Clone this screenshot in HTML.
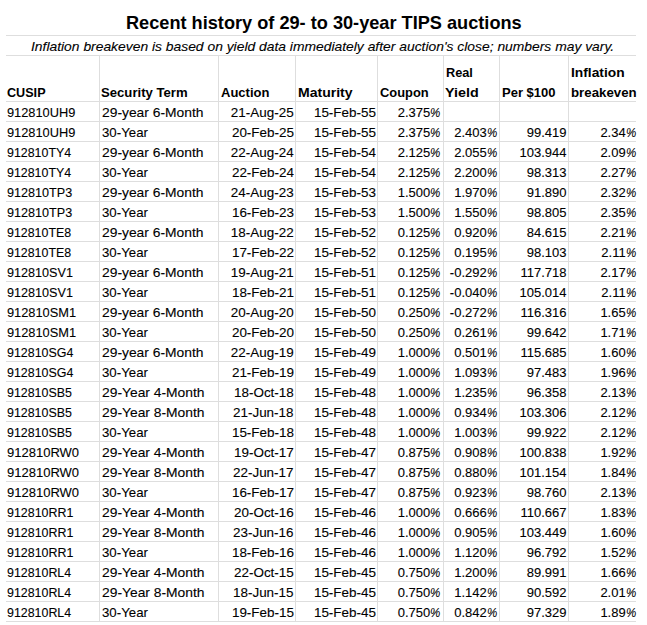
<!DOCTYPE html><html><head><meta charset="utf-8"><style>
html,body{margin:0;padding:0;background:#fff;}
body{width:647px;height:625px;overflow:hidden;position:relative;font-family:"Liberation Sans",sans-serif;color:#000;}
.h{position:absolute;height:1px;background:#dedede;left:6px;width:630px;}
.v{position:absolute;width:1px;background:#dedede;}
.t{position:absolute;white-space:nowrap;font-size:13px;line-height:20px;height:20px;width:0;}
.t span{position:absolute;top:0;display:block;}
.l span{left:0;transform-origin:0 50%;}
.r span{right:0;transform-origin:100% 50%;}
.b{font-weight:bold;}
.t{-webkit-text-stroke:0.1px #000;}
.b{-webkit-text-stroke:0px #000;}
.p{display:inline-block;transform:scaleX(0.89);transform-origin:0 50%;margin-right:-1.27px;}
</style></head><body>
<div class="h" style="top:35px"></div>
<div class="h" style="top:55px"></div>
<div class="h" style="top:101px"></div>
<div class="h" style="top:121px"></div>
<div class="h" style="top:141px"></div>
<div class="h" style="top:161px"></div>
<div class="h" style="top:181px"></div>
<div class="h" style="top:201px"></div>
<div class="h" style="top:221px"></div>
<div class="h" style="top:241px"></div>
<div class="h" style="top:261px"></div>
<div class="h" style="top:281px"></div>
<div class="h" style="top:301px"></div>
<div class="h" style="top:321px"></div>
<div class="h" style="top:341px"></div>
<div class="h" style="top:361px"></div>
<div class="h" style="top:381px"></div>
<div class="h" style="top:401px"></div>
<div class="h" style="top:421px"></div>
<div class="h" style="top:441px"></div>
<div class="h" style="top:461px"></div>
<div class="h" style="top:481px"></div>
<div class="h" style="top:501px"></div>
<div class="h" style="top:521px"></div>
<div class="h" style="top:541px"></div>
<div class="h" style="top:561px"></div>
<div class="h" style="top:581px"></div>
<div class="h" style="top:601px"></div>
<div class="h" style="top:621px"></div>
<div class="v" style="left:99px;top:56px;height:566px"></div>
<div class="v" style="left:218px;top:56px;height:566px"></div>
<div class="v" style="left:295px;top:56px;height:566px"></div>
<div class="v" style="left:377px;top:56px;height:566px"></div>
<div class="v" style="left:443px;top:56px;height:566px"></div>
<div class="v" style="left:499px;top:56px;height:566px"></div>
<div class="v" style="left:568px;top:56px;height:566px"></div>
<div class="t l b" style="left:126px;top:13px;font-size:19px;"><span style="transform:scaleX(0.956)">Recent history of 29- to 30-year TIPS auctions</span></div>
<div class="t l" style="left:31px;top:37px;font-size:13px;font-style:italic;"><span style="transform:scaleX(1.066)">Inflation breakeven is based on yield data immediately after auction&#39;s close; numbers may vary.</span></div>
<div class="t l b" style="left:7px;top:83px"><span style="transform:scaleX(0.97)">CUSIP</span></div>
<div class="t l b" style="left:101px;top:83px"><span style="transform:scaleX(1.01)">Security Term</span></div>
<div class="t l b" style="left:221px;top:83px"><span>Auction</span></div>
<div class="t l b" style="left:298px;top:83px"><span style="transform:scaleX(1.08)">Maturity</span></div>
<div class="t l b" style="left:380px;top:83px"><span style="transform:scaleX(0.99)">Coupon</span></div>
<div class="t l b" style="left:446px;top:63px"><span style="transform:scaleX(0.98)">Real</span></div>
<div class="t l b" style="left:445px;top:83px"><span style="transform:scaleX(1.1)">Yield</span></div>
<div class="t l b" style="left:502px;top:83px"><span>Per &#36;100</span></div>
<div class="t l b" style="left:571px;top:63px"><span style="transform:scaleX(1.06)">Inflation</span></div>
<div class="t l b" style="left:571px;top:83px"><span style="transform:scaleX(1.02)">breakeven</span></div>
<div class="t l" style="left:7px;top:103px"><span style="transform:scaleX(0.985)">912810UH9</span></div>
<div class="t l" style="left:102px;top:103px"><span style="transform:scaleX(1.064)">29-year 6-Month</span></div>
<div class="t r" style="left:294px;top:103px"><span style="transform:scaleX(1.035)">21-Aug-25</span></div>
<div class="t r" style="left:376px;top:103px"><span style="transform:scaleX(1.035)">15-Feb-55</span></div>
<div class="t r" style="left:440.5px;top:103px"><span>2.375<i class="p">%</i></span></div>
<div class="t l" style="left:7px;top:123px"><span style="transform:scaleX(0.985)">912810UH9</span></div>
<div class="t l" style="left:102px;top:123px"><span style="transform:scaleX(1.02)">30-Year</span></div>
<div class="t r" style="left:294px;top:123px"><span style="transform:scaleX(1.035)">20-Feb-25</span></div>
<div class="t r" style="left:376px;top:123px"><span style="transform:scaleX(1.035)">15-Feb-55</span></div>
<div class="t r" style="left:440.5px;top:123px"><span>2.375<i class="p">%</i></span></div>
<div class="t r" style="left:497px;top:123px"><span>2.403<i class="p">%</i></span></div>
<div class="t r" style="left:566.5px;top:123px"><span>99.419</span></div>
<div class="t r" style="left:636px;top:123px"><span>2.34<i class="p">%</i></span></div>
<div class="t l" style="left:7px;top:143px"><span style="transform:scaleX(0.954)">912810TY4</span></div>
<div class="t l" style="left:102px;top:143px"><span style="transform:scaleX(1.064)">29-year 6-Month</span></div>
<div class="t r" style="left:294px;top:143px"><span style="transform:scaleX(1.035)">22-Aug-24</span></div>
<div class="t r" style="left:376px;top:143px"><span style="transform:scaleX(1.035)">15-Feb-54</span></div>
<div class="t r" style="left:440.5px;top:143px"><span>2.125<i class="p">%</i></span></div>
<div class="t r" style="left:497px;top:143px"><span>2.055<i class="p">%</i></span></div>
<div class="t r" style="left:566.5px;top:143px"><span>103.944</span></div>
<div class="t r" style="left:636px;top:143px"><span>2.09<i class="p">%</i></span></div>
<div class="t l" style="left:7px;top:163px"><span style="transform:scaleX(0.954)">912810TY4</span></div>
<div class="t l" style="left:102px;top:163px"><span style="transform:scaleX(1.02)">30-Year</span></div>
<div class="t r" style="left:294px;top:163px"><span style="transform:scaleX(1.035)">22-Feb-24</span></div>
<div class="t r" style="left:376px;top:163px"><span style="transform:scaleX(1.035)">15-Feb-54</span></div>
<div class="t r" style="left:440.5px;top:163px"><span>2.125<i class="p">%</i></span></div>
<div class="t r" style="left:497px;top:163px"><span>2.200<i class="p">%</i></span></div>
<div class="t r" style="left:566.5px;top:163px"><span>98.313</span></div>
<div class="t r" style="left:636px;top:163px"><span>2.27<i class="p">%</i></span></div>
<div class="t l" style="left:7px;top:183px"><span style="transform:scaleX(0.969)">912810TP3</span></div>
<div class="t l" style="left:102px;top:183px"><span style="transform:scaleX(1.064)">29-year 6-Month</span></div>
<div class="t r" style="left:294px;top:183px"><span style="transform:scaleX(1.035)">24-Aug-23</span></div>
<div class="t r" style="left:376px;top:183px"><span style="transform:scaleX(1.035)">15-Feb-53</span></div>
<div class="t r" style="left:440.5px;top:183px"><span>1.500<i class="p">%</i></span></div>
<div class="t r" style="left:497px;top:183px"><span>1.970<i class="p">%</i></span></div>
<div class="t r" style="left:566.5px;top:183px"><span>91.890</span></div>
<div class="t r" style="left:636px;top:183px"><span>2.32<i class="p">%</i></span></div>
<div class="t l" style="left:7px;top:203px"><span style="transform:scaleX(0.969)">912810TP3</span></div>
<div class="t l" style="left:102px;top:203px"><span style="transform:scaleX(1.02)">30-Year</span></div>
<div class="t r" style="left:294px;top:203px"><span style="transform:scaleX(1.035)">16-Feb-23</span></div>
<div class="t r" style="left:376px;top:203px"><span style="transform:scaleX(1.035)">15-Feb-53</span></div>
<div class="t r" style="left:440.5px;top:203px"><span>1.500<i class="p">%</i></span></div>
<div class="t r" style="left:497px;top:203px"><span>1.550<i class="p">%</i></span></div>
<div class="t r" style="left:566.5px;top:203px"><span>98.805</span></div>
<div class="t r" style="left:636px;top:203px"><span>2.35<i class="p">%</i></span></div>
<div class="t l" style="left:7px;top:223px"><span style="transform:scaleX(0.954)">912810TE8</span></div>
<div class="t l" style="left:102px;top:223px"><span style="transform:scaleX(1.064)">29-year 6-Month</span></div>
<div class="t r" style="left:294px;top:223px"><span style="transform:scaleX(1.035)">18-Aug-22</span></div>
<div class="t r" style="left:376px;top:223px"><span style="transform:scaleX(1.035)">15-Feb-52</span></div>
<div class="t r" style="left:440.5px;top:223px"><span>0.125<i class="p">%</i></span></div>
<div class="t r" style="left:497px;top:223px"><span>0.920<i class="p">%</i></span></div>
<div class="t r" style="left:566.5px;top:223px"><span>84.615</span></div>
<div class="t r" style="left:636px;top:223px"><span>2.21<i class="p">%</i></span></div>
<div class="t l" style="left:7px;top:243px"><span style="transform:scaleX(0.954)">912810TE8</span></div>
<div class="t l" style="left:102px;top:243px"><span style="transform:scaleX(1.02)">30-Year</span></div>
<div class="t r" style="left:294px;top:243px"><span style="transform:scaleX(1.035)">17-Feb-22</span></div>
<div class="t r" style="left:376px;top:243px"><span style="transform:scaleX(1.035)">15-Feb-52</span></div>
<div class="t r" style="left:440.5px;top:243px"><span>0.125<i class="p">%</i></span></div>
<div class="t r" style="left:497px;top:243px"><span>0.195<i class="p">%</i></span></div>
<div class="t r" style="left:566.5px;top:243px"><span>98.103</span></div>
<div class="t r" style="left:636px;top:243px"><span>2.11<i class="p">%</i></span></div>
<div class="t l" style="left:7px;top:263px"><span style="transform:scaleX(0.97)">912810SV1</span></div>
<div class="t l" style="left:102px;top:263px"><span style="transform:scaleX(1.064)">29-year 6-Month</span></div>
<div class="t r" style="left:294px;top:263px"><span style="transform:scaleX(1.035)">19-Aug-21</span></div>
<div class="t r" style="left:376px;top:263px"><span style="transform:scaleX(1.035)">15-Feb-51</span></div>
<div class="t r" style="left:440.5px;top:263px"><span>0.125<i class="p">%</i></span></div>
<div class="t r" style="left:497px;top:263px"><span>-0.292<i class="p">%</i></span></div>
<div class="t r" style="left:566.5px;top:263px"><span>117.718</span></div>
<div class="t r" style="left:636px;top:263px"><span>2.17<i class="p">%</i></span></div>
<div class="t l" style="left:7px;top:283px"><span style="transform:scaleX(0.97)">912810SV1</span></div>
<div class="t l" style="left:102px;top:283px"><span style="transform:scaleX(1.02)">30-Year</span></div>
<div class="t r" style="left:294px;top:283px"><span style="transform:scaleX(1.035)">18-Feb-21</span></div>
<div class="t r" style="left:376px;top:283px"><span style="transform:scaleX(1.035)">15-Feb-51</span></div>
<div class="t r" style="left:440.5px;top:283px"><span>0.125<i class="p">%</i></span></div>
<div class="t r" style="left:497px;top:283px"><span>-0.040<i class="p">%</i></span></div>
<div class="t r" style="left:566.5px;top:283px"><span>105.014</span></div>
<div class="t r" style="left:636px;top:283px"><span>2.11<i class="p">%</i></span></div>
<div class="t l" style="left:7px;top:303px"><span style="transform:scaleX(0.985)">912810SM1</span></div>
<div class="t l" style="left:102px;top:303px"><span style="transform:scaleX(1.064)">29-year 6-Month</span></div>
<div class="t r" style="left:294px;top:303px"><span style="transform:scaleX(1.035)">20-Aug-20</span></div>
<div class="t r" style="left:376px;top:303px"><span style="transform:scaleX(1.035)">15-Feb-50</span></div>
<div class="t r" style="left:440.5px;top:303px"><span>0.250<i class="p">%</i></span></div>
<div class="t r" style="left:497px;top:303px"><span>-0.272<i class="p">%</i></span></div>
<div class="t r" style="left:566.5px;top:303px"><span>116.316</span></div>
<div class="t r" style="left:636px;top:303px"><span>1.65<i class="p">%</i></span></div>
<div class="t l" style="left:7px;top:323px"><span style="transform:scaleX(0.985)">912810SM1</span></div>
<div class="t l" style="left:102px;top:323px"><span style="transform:scaleX(1.02)">30-Year</span></div>
<div class="t r" style="left:294px;top:323px"><span style="transform:scaleX(1.035)">20-Feb-20</span></div>
<div class="t r" style="left:376px;top:323px"><span style="transform:scaleX(1.035)">15-Feb-50</span></div>
<div class="t r" style="left:440.5px;top:323px"><span>0.250<i class="p">%</i></span></div>
<div class="t r" style="left:497px;top:323px"><span>0.261<i class="p">%</i></span></div>
<div class="t r" style="left:566.5px;top:323px"><span>99.642</span></div>
<div class="t r" style="left:636px;top:323px"><span>1.71<i class="p">%</i></span></div>
<div class="t l" style="left:7px;top:343px"><span style="transform:scaleX(0.956)">912810SG4</span></div>
<div class="t l" style="left:102px;top:343px"><span style="transform:scaleX(1.064)">29-year 6-Month</span></div>
<div class="t r" style="left:294px;top:343px"><span style="transform:scaleX(1.035)">22-Aug-19</span></div>
<div class="t r" style="left:376px;top:343px"><span style="transform:scaleX(1.035)">15-Feb-49</span></div>
<div class="t r" style="left:440.5px;top:343px"><span>1.000<i class="p">%</i></span></div>
<div class="t r" style="left:497px;top:343px"><span>0.501<i class="p">%</i></span></div>
<div class="t r" style="left:566.5px;top:343px"><span>115.685</span></div>
<div class="t r" style="left:636px;top:343px"><span>1.60<i class="p">%</i></span></div>
<div class="t l" style="left:7px;top:363px"><span style="transform:scaleX(0.956)">912810SG4</span></div>
<div class="t l" style="left:102px;top:363px"><span style="transform:scaleX(1.02)">30-Year</span></div>
<div class="t r" style="left:294px;top:363px"><span style="transform:scaleX(1.035)">21-Feb-19</span></div>
<div class="t r" style="left:376px;top:363px"><span style="transform:scaleX(1.035)">15-Feb-49</span></div>
<div class="t r" style="left:440.5px;top:363px"><span>1.000<i class="p">%</i></span></div>
<div class="t r" style="left:497px;top:363px"><span>1.093<i class="p">%</i></span></div>
<div class="t r" style="left:566.5px;top:363px"><span>97.483</span></div>
<div class="t r" style="left:636px;top:363px"><span>1.96<i class="p">%</i></span></div>
<div class="t l" style="left:7px;top:383px"><span style="transform:scaleX(0.955)">912810SB5</span></div>
<div class="t l" style="left:102px;top:383px"><span style="transform:scaleX(1.064)">29-Year 4-Month</span></div>
<div class="t r" style="left:294px;top:383px"><span style="transform:scaleX(1.035)">18-Oct-18</span></div>
<div class="t r" style="left:376px;top:383px"><span style="transform:scaleX(1.035)">15-Feb-48</span></div>
<div class="t r" style="left:440.5px;top:383px"><span>1.000<i class="p">%</i></span></div>
<div class="t r" style="left:497px;top:383px"><span>1.235<i class="p">%</i></span></div>
<div class="t r" style="left:566.5px;top:383px"><span>96.358</span></div>
<div class="t r" style="left:636px;top:383px"><span>2.13<i class="p">%</i></span></div>
<div class="t l" style="left:7px;top:403px"><span style="transform:scaleX(0.955)">912810SB5</span></div>
<div class="t l" style="left:102px;top:403px"><span style="transform:scaleX(1.064)">29-Year 8-Month</span></div>
<div class="t r" style="left:294px;top:403px"><span style="transform:scaleX(1.035)">21-Jun-18</span></div>
<div class="t r" style="left:376px;top:403px"><span style="transform:scaleX(1.035)">15-Feb-48</span></div>
<div class="t r" style="left:440.5px;top:403px"><span>1.000<i class="p">%</i></span></div>
<div class="t r" style="left:497px;top:403px"><span>0.934<i class="p">%</i></span></div>
<div class="t r" style="left:566.5px;top:403px"><span>103.306</span></div>
<div class="t r" style="left:636px;top:403px"><span>2.12<i class="p">%</i></span></div>
<div class="t l" style="left:7px;top:423px"><span style="transform:scaleX(0.955)">912810SB5</span></div>
<div class="t l" style="left:102px;top:423px"><span style="transform:scaleX(1.02)">30-Year</span></div>
<div class="t r" style="left:294px;top:423px"><span style="transform:scaleX(1.035)">15-Feb-18</span></div>
<div class="t r" style="left:376px;top:423px"><span style="transform:scaleX(1.035)">15-Feb-48</span></div>
<div class="t r" style="left:440.5px;top:423px"><span>1.000<i class="p">%</i></span></div>
<div class="t r" style="left:497px;top:423px"><span>1.003<i class="p">%</i></span></div>
<div class="t r" style="left:566.5px;top:423px"><span>99.922</span></div>
<div class="t r" style="left:636px;top:423px"><span>2.12<i class="p">%</i></span></div>
<div class="t l" style="left:7px;top:443px"><span>912810RW0</span></div>
<div class="t l" style="left:102px;top:443px"><span style="transform:scaleX(1.064)">29-Year 4-Month</span></div>
<div class="t r" style="left:294px;top:443px"><span style="transform:scaleX(1.035)">19-Oct-17</span></div>
<div class="t r" style="left:376px;top:443px"><span style="transform:scaleX(1.035)">15-Feb-47</span></div>
<div class="t r" style="left:440.5px;top:443px"><span>0.875<i class="p">%</i></span></div>
<div class="t r" style="left:497px;top:443px"><span>0.908<i class="p">%</i></span></div>
<div class="t r" style="left:566.5px;top:443px"><span>100.838</span></div>
<div class="t r" style="left:636px;top:443px"><span>1.92<i class="p">%</i></span></div>
<div class="t l" style="left:7px;top:463px"><span>912810RW0</span></div>
<div class="t l" style="left:102px;top:463px"><span style="transform:scaleX(1.064)">29-Year 8-Month</span></div>
<div class="t r" style="left:294px;top:463px"><span style="transform:scaleX(1.035)">22-Jun-17</span></div>
<div class="t r" style="left:376px;top:463px"><span style="transform:scaleX(1.035)">15-Feb-47</span></div>
<div class="t r" style="left:440.5px;top:463px"><span>0.875<i class="p">%</i></span></div>
<div class="t r" style="left:497px;top:463px"><span>0.880<i class="p">%</i></span></div>
<div class="t r" style="left:566.5px;top:463px"><span>101.154</span></div>
<div class="t r" style="left:636px;top:463px"><span>1.84<i class="p">%</i></span></div>
<div class="t l" style="left:7px;top:483px"><span>912810RW0</span></div>
<div class="t l" style="left:102px;top:483px"><span style="transform:scaleX(1.02)">30-Year</span></div>
<div class="t r" style="left:294px;top:483px"><span style="transform:scaleX(1.035)">16-Feb-17</span></div>
<div class="t r" style="left:376px;top:483px"><span style="transform:scaleX(1.035)">15-Feb-47</span></div>
<div class="t r" style="left:440.5px;top:483px"><span>0.875<i class="p">%</i></span></div>
<div class="t r" style="left:497px;top:483px"><span>0.923<i class="p">%</i></span></div>
<div class="t r" style="left:566.5px;top:483px"><span>98.760</span></div>
<div class="t r" style="left:636px;top:483px"><span>2.13<i class="p">%</i></span></div>
<div class="t l" style="left:7px;top:503px"><span style="transform:scaleX(0.956)">912810RR1</span></div>
<div class="t l" style="left:102px;top:503px"><span style="transform:scaleX(1.064)">29-Year 4-Month</span></div>
<div class="t r" style="left:294px;top:503px"><span style="transform:scaleX(1.035)">20-Oct-16</span></div>
<div class="t r" style="left:376px;top:503px"><span style="transform:scaleX(1.035)">15-Feb-46</span></div>
<div class="t r" style="left:440.5px;top:503px"><span>1.000<i class="p">%</i></span></div>
<div class="t r" style="left:497px;top:503px"><span>0.666<i class="p">%</i></span></div>
<div class="t r" style="left:566.5px;top:503px"><span>110.667</span></div>
<div class="t r" style="left:636px;top:503px"><span>1.83<i class="p">%</i></span></div>
<div class="t l" style="left:7px;top:523px"><span style="transform:scaleX(0.956)">912810RR1</span></div>
<div class="t l" style="left:102px;top:523px"><span style="transform:scaleX(1.064)">29-Year 8-Month</span></div>
<div class="t r" style="left:294px;top:523px"><span style="transform:scaleX(1.035)">23-Jun-16</span></div>
<div class="t r" style="left:376px;top:523px"><span style="transform:scaleX(1.035)">15-Feb-46</span></div>
<div class="t r" style="left:440.5px;top:523px"><span>1.000<i class="p">%</i></span></div>
<div class="t r" style="left:497px;top:523px"><span>0.905<i class="p">%</i></span></div>
<div class="t r" style="left:566.5px;top:523px"><span>103.449</span></div>
<div class="t r" style="left:636px;top:523px"><span>1.60<i class="p">%</i></span></div>
<div class="t l" style="left:7px;top:543px"><span style="transform:scaleX(0.956)">912810RR1</span></div>
<div class="t l" style="left:102px;top:543px"><span style="transform:scaleX(1.02)">30-Year</span></div>
<div class="t r" style="left:294px;top:543px"><span style="transform:scaleX(1.035)">18-Feb-16</span></div>
<div class="t r" style="left:376px;top:543px"><span style="transform:scaleX(1.035)">15-Feb-46</span></div>
<div class="t r" style="left:440.5px;top:543px"><span>1.000<i class="p">%</i></span></div>
<div class="t r" style="left:497px;top:543px"><span>1.120<i class="p">%</i></span></div>
<div class="t r" style="left:566.5px;top:543px"><span>96.792</span></div>
<div class="t r" style="left:636px;top:543px"><span>1.52<i class="p">%</i></span></div>
<div class="t l" style="left:7px;top:563px"><span style="transform:scaleX(0.954)">912810RL4</span></div>
<div class="t l" style="left:102px;top:563px"><span style="transform:scaleX(1.064)">29-Year 4-Month</span></div>
<div class="t r" style="left:294px;top:563px"><span style="transform:scaleX(1.035)">22-Oct-15</span></div>
<div class="t r" style="left:376px;top:563px"><span style="transform:scaleX(1.035)">15-Feb-45</span></div>
<div class="t r" style="left:440.5px;top:563px"><span>0.750<i class="p">%</i></span></div>
<div class="t r" style="left:497px;top:563px"><span>1.200<i class="p">%</i></span></div>
<div class="t r" style="left:566.5px;top:563px"><span>89.991</span></div>
<div class="t r" style="left:636px;top:563px"><span>1.66<i class="p">%</i></span></div>
<div class="t l" style="left:7px;top:583px"><span style="transform:scaleX(0.954)">912810RL4</span></div>
<div class="t l" style="left:102px;top:583px"><span style="transform:scaleX(1.064)">29-Year 8-Month</span></div>
<div class="t r" style="left:294px;top:583px"><span style="transform:scaleX(1.035)">18-Jun-15</span></div>
<div class="t r" style="left:376px;top:583px"><span style="transform:scaleX(1.035)">15-Feb-45</span></div>
<div class="t r" style="left:440.5px;top:583px"><span>0.750<i class="p">%</i></span></div>
<div class="t r" style="left:497px;top:583px"><span>1.142<i class="p">%</i></span></div>
<div class="t r" style="left:566.5px;top:583px"><span>90.592</span></div>
<div class="t r" style="left:636px;top:583px"><span>2.01<i class="p">%</i></span></div>
<div class="t l" style="left:7px;top:603px"><span style="transform:scaleX(0.954)">912810RL4</span></div>
<div class="t l" style="left:102px;top:603px"><span style="transform:scaleX(1.02)">30-Year</span></div>
<div class="t r" style="left:294px;top:603px"><span style="transform:scaleX(1.035)">19-Feb-15</span></div>
<div class="t r" style="left:376px;top:603px"><span style="transform:scaleX(1.035)">15-Feb-45</span></div>
<div class="t r" style="left:440.5px;top:603px"><span>0.750<i class="p">%</i></span></div>
<div class="t r" style="left:497px;top:603px"><span>0.842<i class="p">%</i></span></div>
<div class="t r" style="left:566.5px;top:603px"><span>97.329</span></div>
<div class="t r" style="left:636px;top:603px"><span>1.89<i class="p">%</i></span></div>
</body></html>
